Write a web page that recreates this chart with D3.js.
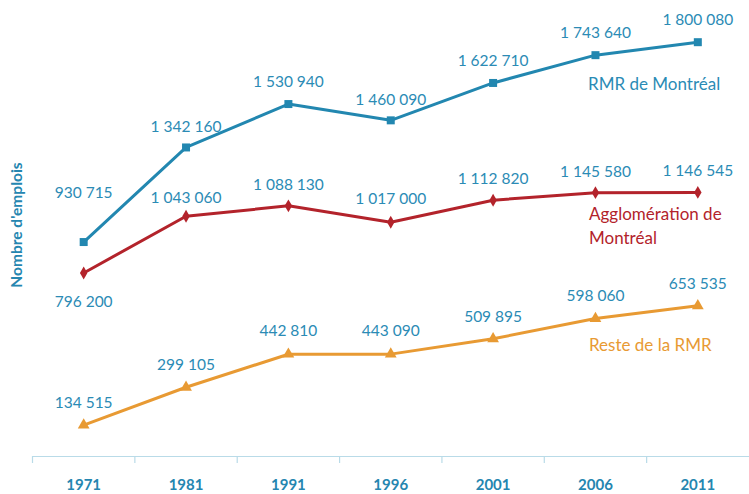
<!DOCTYPE html>
<html>
<head>
<meta charset="utf-8">
<script src="https://cdn.jsdelivr.net/npm/d3@7"></script>
<style>
    body { margin: 0; background: #fff; }
    svg { display: block; font-family: Lato, 'Open Sans', sans-serif; }
</style>
</head>
<body>
<svg id="chart" width="749" height="494"></svg>
<script>
// Chart data
const years = ['1971', '1981', '1991', '1996', '2001', '2006', '2011'];
const rmrValues = [930715, 1342160, 1530940, 1460090, 1622710, 1743640, 1800080];
const agglValues = [796200, 1043060, 1088130, 1017000, 1112820, 1145580, 1146545];
const resteValues = [134515, 299105, 442810, 443090, 509895, 598060, 653535];
const seriesNames = ['RMR de Montréal', 'Agglomération de Montréal', 'Reste de la RMR'];

// Label nudges (px above the point), hand-tuned like the original
const rmrLabelDy = [-48, -19, -21, -19, -21, -21, -21];
const agglLabelDy = [30, -17, -20, -22, -20, -20, -20];
const resteLabelDy = [-21, -21, -22, -22, -21, -21, -21];

const axisY = 456;
const labelColor = '#2b8bb5';

const chart = d3.select('#chart');

// Scales
const x = d3.scaleBand().domain(years).range([32.5, 749]);
const y = d3.scaleLinear().domain([0, 2000000]).range([axisY, axisY - 2000000 / 4350]);
const cx = d => x(d) + x.bandwidth() / 2;

// X axis
const xAxis = d3.axisBottom(x).tickSize(0).tickPadding(0);
const gx = chart.append('g').attr('transform', `translate(0, ${axisY})`).call(xAxis);
gx.select('.domain').attr('stroke', '#b9dbe8').attr('stroke-width', 1.2);
gx.selectAll('.tick text')
    .attr('y', 34)
    .attr('dy', 0)
    .attr('fill', '#2586b0')
    .attr('font-size', 15)
    .attr('font-weight', 'bold')
    .attr('font-family', 'Lato, sans-serif');

// tick separators between categories
chart.selectAll('.sep')
    .data(years)
    .enter()
    .append('line')
        .attr('x1', d => x(d)).attr('x2', d => x(d))
        .attr('y1', axisY).attr('y2', axisY + 7)
        .attr('stroke', '#b9dbe8').attr('stroke-width', 1.2);

// Y axis title
chart.append('text')
    .attr('transform', `translate(22, 225) rotate(-90)`)
    .attr('text-anchor', 'middle')
    .attr('fill', '#2586b0')
    .attr('font-size', 15.5)
    .attr('font-weight', 'bold')
    .text("Nombre d'emplois");

function plotSeries(values, color, width, symbol, size, dys) {
    const data = values.map((v, i) => ({ year: years[i], value: v, dy: dys[i] }));
    const line = d3.line().x(d => cx(d.year)).y(d => y(d.value));

    chart.append('path')
        .datum(data)
        .attr('fill', 'none')
        .attr('stroke', color)
        .attr('stroke-width', width)
        .attr('stroke-linejoin', 'round')
        .attr('d', line);

    chart.append('g').selectAll('path')
        .data(data)
        .enter()
        .append('path')
            .attr('transform', d => `translate(${cx(d.year)}, ${y(d.value)})`)
            .attr('fill', color)
            .attr('d', d3.symbol().type(symbol).size(size));

    chart.append('g').selectAll('text')
        .data(data)
        .enter()
        .append('text')
            .attr('x', d => cx(d.year))
            .attr('y', d => y(d.value) + d.dy)
            .attr('text-anchor', 'middle')
            .attr('dominant-baseline', 'middle')
            .attr('fill', labelColor)
            .attr('font-size', 15.5)
            .text(d => d3.format(',')(d.value).replace(/,/g, ' '));
}

plotSeries(rmrValues, '#2287b0', 3, d3.symbolSquare, 64, rmrLabelDy);
plotSeries(agglValues, '#b3232b', 3, d3.symbolDiamond, 48, agglLabelDy);
plotSeries(resteValues, '#e89a33', 3, d3.symbolTriangle, 60, resteLabelDy);

// Series names
chart.append('text')
    .attr('x', 588).attr('y', 90)
    .attr('fill', '#2b8bb5').attr('font-size', 17)
    .text(seriesNames[0]);

const agglName = chart.append('text')
    .attr('x', 589).attr('y', 220)
    .attr('fill', '#b3232b').attr('font-size', 17);
agglName.append('tspan').attr('x', 589).text('Agglomération de');
agglName.append('tspan').attr('x', 589).attr('dy', 24).text('Montréal');

chart.append('text')
    .attr('x', 589).attr('y', 351)
    .attr('fill', '#e89a33').attr('font-size', 17)
    .text(seriesNames[2]);
</script>
</body>
</html>
